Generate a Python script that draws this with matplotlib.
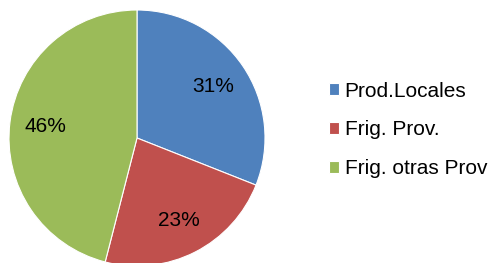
import matplotlib.pyplot as plt

labels = ['Prod.Locales', 'Frig. Prov.', 'Frig. otras Prov']
values = [31, 23, 46]
colors = ['#4F81BD', '#C0504D', '#9BBB59']

plt.rcParams['font.family'] = ['Liberation Sans', 'DejaVu Sans']

fig = plt.figure(figsize=(4.91, 2.63), dpi=100)
# pie centre at about (137, 138) px, radius 128 px
ax = fig.add_axes([9 / 491, -3 / 263, 256 / 491, 256 / 263])
wedges, texts, autotexts = ax.pie(values, colors=colors, startangle=90, counterclock=False,
                                  autopct='%d%%', pctdistance=0.72, radius=1,
                                  wedgeprops={'edgecolor': 'white', 'linewidth': 0.8},
                                  textprops={'fontsize': 15, 'color': 'black'})
ax.set_xlim(-1, 1)
ax.set_ylim(-1, 1)

fig.legend(wedges, labels, loc='center left', bbox_to_anchor=(329 / 491, 1 - 130 / 263),
           frameon=False, fontsize=15, handlelength=0.5, handleheight=0.5,
           handletextpad=0.25, labelspacing=0.95, borderpad=0, borderaxespad=0)

fig.savefig('out.png', dpi=100)
